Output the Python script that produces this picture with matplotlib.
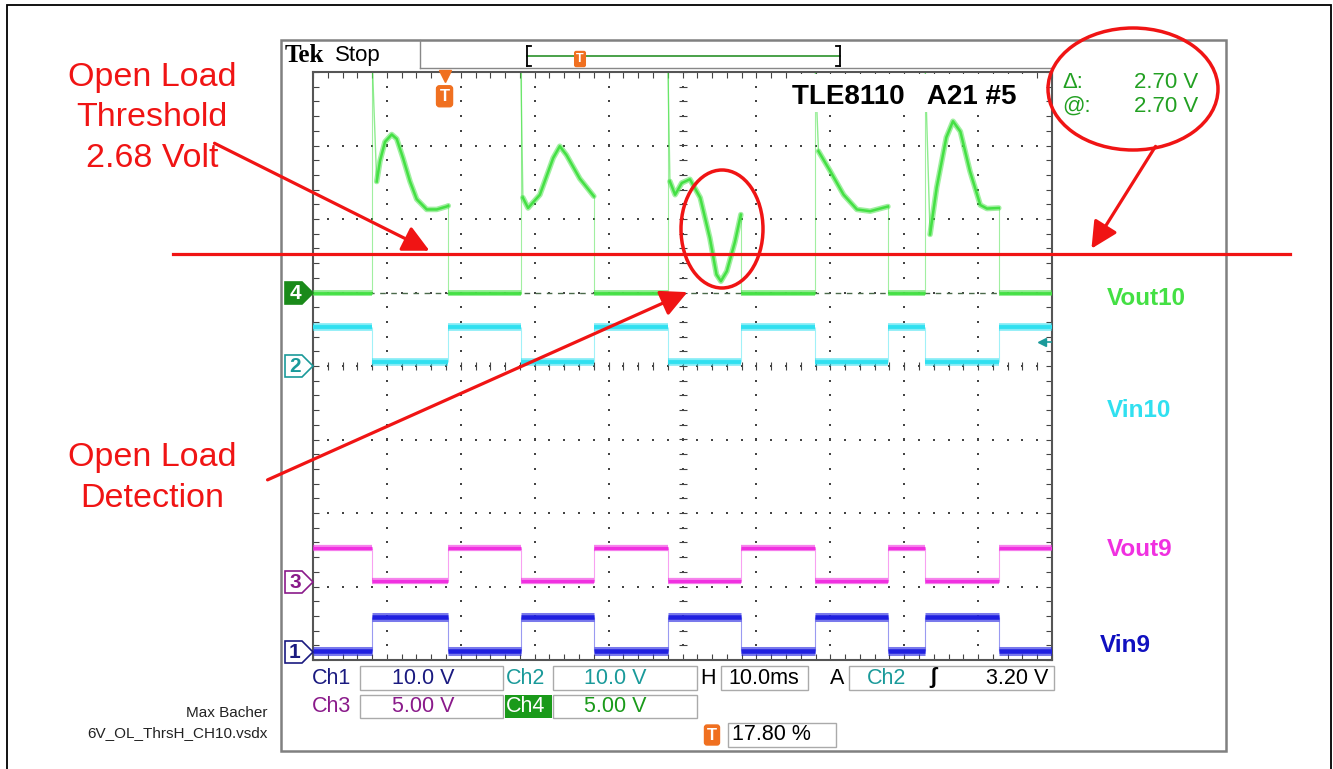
import matplotlib.pyplot as plt
import numpy as np
from matplotlib import transforms
from matplotlib.patches import Rectangle, Ellipse, Polygon, FancyArrowPatch
from matplotlib.lines import Line2D

plt.rcParams['font.family'] = ['Liberation Sans', 'DejaVu Sans']

# time base: 10 ms/div, 10 divisions
t_range = [0.0, 100.0]
# switching edges of the input signals (ms)
edges = [8.0, 18.3, 28.1, 38.0, 48.0, 57.9, 67.9, 77.8, 82.8, 92.8]

# volts per division and ground marker position (div) of each channel
volt_div = {'Vin9': 10.0, 'Vin10': 10.0, 'Vout9': 5.0, 'Vout10': 5.0}
ground_div = {'Vin9': -3.89, 'Vin10': 0.0, 'Vout9': -2.94, 'Vout10': 0.99}

# level before the first edge, then alternating (V)
vin10_levels = [5.3, 0.5]
vout9_levels = [2.3, 0.05]
vin9_levels = [0.1, 4.8]
vout10_low = 0.05

# Vout10 while channel 10 is off (V), first point = top of the switching spike
p1_t = [8.0, 8.62, 9.07, 9.74, 10.65, 11.33, 12.18, 13.13, 14.03, 15.39, 16.74, 18.09, 18.3]
p1_v = [16.0, 7.6, 9.0, 10.3, 10.8, 10.5, 9.2, 7.6, 6.4, 5.7, 5.7, 5.9, 5.95]
p2_t = [28.1, 28.4, 29.1, 30.7, 32.5, 33.4, 34.3, 36.1, 38.0]
p2_v = [16.0, 6.5, 5.8, 6.7, 9.2, 10.0, 9.4, 7.8, 6.6]
p3_t = [48.0, 48.3, 49.0, 49.9, 51.0, 52.4, 53.7, 54.6, 55.2, 56.0, 57.1, 57.9]
p3_v = [16.0, 7.6, 6.7, 7.5, 7.75, 6.5, 3.76, 1.27, 0.82, 1.5, 3.5, 5.35]
p4_t = [67.9, 68.4, 70.0, 71.8, 73.6, 75.4, 77.8]
p4_v = [16.0, 9.66, 8.3, 6.7, 5.7, 5.58, 5.9]
p5_t = [82.8, 83.5, 84.4, 85.7, 86.6, 87.6, 88.9, 90.3, 91.2, 92.8]
p5_v = [16.0, 4.0, 7.2, 10.6, 11.7, 11.0, 8.3, 6.0, 5.76, 5.8]

threshold_v = 2.68
trigger_pos = 17.8   # % of record
trigger_level = 3.20  # V on Ch2

W, H = 1333, 769
red = '#f01414'
green = '#44e044'
cyan = '#30e0f0'
magenta = '#f030e0'
blue = '#2020e0'
orange = '#f07020'


def P(x, y):
    # pixel position -> figure fraction
    return (x / W, 1 - y / H)


def box(x0, y0, x1, y1, ec='#aaaaaa', fc='none', lw=1.0, z=1):
    r = Rectangle(P(x0, y1), (x1 - x0) / W, (y1 - y0) / H, transform=fig.transFigure,
                  fc=fc, ec=ec, lw=lw, zorder=z)
    fig.add_artist(r)


def hline(x0, x1, y, color='#888888', lw=1.0):
    fig.add_artist(Line2D([x0 / W, x1 / W], [1 - y / H, 1 - y / H], color=color, lw=lw))


def vline(x, y0, y1, color='#888888', lw=1.0):
    fig.add_artist(Line2D([x / W, x / W], [1 - y0 / H, 1 - y1 / H], color=color, lw=lw))


fig = plt.figure(figsize=(W / 100, H / 100), dpi=100)

# outer page border and scope frame
box(7, 5, 1331, 775, ec='black', lw=1.3)
box(281, 40, 1226, 751, ec='#808080', lw=1.8)
vline(420, 40, 68)
hline(420, 1052, 68)

ax = fig.add_axes([313 / W, 1 - 660 / H, (1052 - 313) / W, (660 - 72) / H])

# graticule
dot_y = np.arange(-4, 4.01, 0.2)
dot_x = np.arange(0, 100.1, 2)
for gx in np.arange(10, 100, 10):
    ax.scatter(np.full_like(dot_y, gx), dot_y, s=2.5, marker='s', c='#444444', lw=0, zorder=1)
for gy in np.arange(-3, 4, 1):
    ax.scatter(dot_x, np.full_like(dot_x, gy), s=2.5, marker='s', c='#444444', lw=0, zorder=1)
ax.plot(np.full_like(dot_y, 50), dot_y, ls='none', marker='_', ms=6, mew=0.8, color='#444444', zorder=1)
ax.plot(dot_x, np.zeros_like(dot_x), ls='none', marker='|', ms=6, mew=0.8, color='#444444', zorder=1)

# Ch4 ground reference
g4, s4 = ground_div['Vout10'], volt_div['Vout10']
ax.plot(t_range, [g4, g4], color='#4a6a4a', lw=1.0, ls=(0, (4, 4)), zorder=2)


def draw_levels(name, levels, color, width):
    g, s = ground_div[name], volt_div[name]
    bounds = t_range[:1] + edges + t_range[1:]
    for i in range(len(bounds) - 1):
        y = g + levels[i % 2] / s
        ax.plot(bounds[i:i + 2], [y, y], color=color, lw=width, alpha=0.6, solid_capstyle='butt', zorder=3)
        ax.plot(bounds[i:i + 2], [y, y], color=color, lw=width * 0.5, solid_capstyle='butt', zorder=3)
    ax.vlines(edges, g + min(levels) / s, g + max(levels) / s, color=color, lw=0.8, alpha=0.45, zorder=2)


draw_levels('Vin10', vin10_levels, cyan, 5.5)
draw_levels('Vout9', vout9_levels, magenta, 4.5)
draw_levels('Vin9', vin9_levels, blue, 6.5)

# Vout10
pulses = [(p1_t, p1_v), (p2_t, p2_v), (p3_t, p3_v), (p4_t, p4_v), (p5_t, p5_v)]
low_y = g4 + vout10_low / s4
starts = [t_range[0]] + [p[0][-1] for p in pulses]
ends = [p[0][0] for p in pulses] + [t_range[1]]
for a, b in zip(starts, ends):
    ax.plot([a, b], [low_y, low_y], color=green, lw=4.2, alpha=0.6, solid_capstyle='butt', zorder=3)
    ax.plot([a, b], [low_y, low_y], color=green, lw=2.0, solid_capstyle='butt', zorder=3)
for pt, pv in pulses:
    y = g4 + np.array(pv) / s4
    ax.plot([pt[0], pt[0]], [low_y, y[0]], color=green, lw=0.8, alpha=0.5, zorder=2)
    ax.plot(pt[:2], y[:2], color=green, lw=1.0, alpha=0.6, zorder=2)
    ax.plot(pt[1:], y[1:], color=green, lw=4.0, alpha=0.5, solid_joinstyle='round',
            solid_capstyle='round', zorder=3)
    ax.plot(pt[1:], y[1:], color=green, lw=1.8, solid_joinstyle='round', zorder=3)
    ax.plot([pt[-1], pt[-1]], [y[-1], low_y], color=green, lw=0.8, alpha=0.5, zorder=2)

ax.set_xlim(t_range)
ax.set_ylim(-4, 4)
ax.set_xticks(np.arange(0, 101, 10))
ax.set_xticks(dot_x, minor=True)
ax.set_yticks(np.arange(-4, 5, 1))
ax.set_yticks(dot_y, minor=True)
ax.tick_params(which='both', direction='in', length=4, width=0.8, color='#444444',
               top=True, right=True, labelbottom=False, labelleft=False)
for sp in ax.spines.values():
    sp.set_color('#555555')
    sp.set_linewidth(1.5)

# trigger markers
trig_t = t_range[0] + trigger_pos / 100 * (t_range[1] - t_range[0])
ax.plot([trig_t], [3.95], marker='v', ms=8, color=orange, clip_on=False, zorder=6)
ax.text(trig_t, 3.67, 'T', ha='center', va='center', color='white', fontsize=12, fontweight='bold',
        bbox=dict(boxstyle='round,pad=0.18', fc=orange, ec=orange), zorder=6)
ax.plot([98.6], [trigger_level / volt_div['Vin10']], marker='<', ms=6, color='#1a9a9a', zorder=6)
ax.plot([98.6, 99.8], [trigger_level / volt_div['Vin10']] * 2, color='#1a9a9a', lw=1.2, zorder=6)

# title label with white patch behind it
ax.add_patch(Rectangle((0.643, 0.932), 0.334, 0.064, transform=ax.transAxes,
                       fc='white', ec='none', zorder=6))
ax.text(0.648, 0.9575, 'TLE8110   A21 #5', transform=ax.transAxes, fontsize=20, fontweight='bold',
        va='center', ha='left', zorder=7)

# header
fig.text(*P(285, 56), 'Tek', family='Liberation Serif', fontweight='bold', fontsize=18, va='center')
fig.text(*P(335, 55), 'Stop', fontsize=16, va='center')
hline(527, 840, 56, color='#3a9a3a', lw=1.3)
for bx, d in [(527, 4), (840, -4)]:
    vline(bx, 46, 66, color='black', lw=1.3)
    hline(bx, bx + d, 46, color='black', lw=1.3)
    hline(bx, bx + d, 66, color='black', lw=1.3)
fig.text(*P(580, 59), 'T', ha='center', va='center', color='white', fontsize=9, fontweight='bold',
         bbox=dict(boxstyle='round,pad=0.12', fc=orange, ec=orange))

# cursor readout
fig.text(*P(1062, 83), 'Δ:', color='#22a022', fontsize=16, va='center')
fig.text(*P(1062, 106), '@:', color='#22a022', fontsize=16, va='center')
fig.text(*P(1198, 83), '2.70 V', color='#22a022', fontsize=16, va='center', ha='right')
fig.text(*P(1198, 106), '2.70 V', color='#22a022', fontsize=16, va='center', ha='right')

# channel ground markers
for yc, label, ec, fc, tc in [(293, '4', '#1a8a1a', '#1a8a1a', 'white'),
                              (366, '2', '#1a9a9a', 'white', '#1a9a9a'),
                              (582, '3', '#8a1a8a', 'white', '#8a1a8a'),
                              (652, '1', '#1a1a80', 'white', '#1a1a80')]:
    pts = [P(285, yc - 11), P(302, yc - 11), P(313, yc), P(302, yc + 11), P(285, yc + 11)]
    fig.add_artist(Polygon(pts, closed=True, transform=fig.transFigure, fc=fc, ec=ec, lw=1.2))
    fig.text(*P(295, yc + 1), label, color=tc, fontsize=15, fontweight='bold', ha='center', va='center')

# channel names on the right
for yc, label, c in [(299, 'Vout10', green), (410, 'Vin10', cyan),
                     (550, 'Vout9', magenta), (645, 'Vin9', '#1010c0')]:
    fig.text(*P(1107 if label != 'Vin9' else 1100, yc), label, color=c, fontsize=17.5,
             fontweight='bold', va='center', ha='left')

# status bar
st = dict(fontsize=15.5, va='center')
box(360, 666, 503, 690)
box(553, 666, 697, 690)
box(721, 666, 808, 690)
box(849, 666, 1054, 690)
box(360, 695, 503, 718)
box(553, 695, 697, 718)
box(728, 723, 836, 747)
fig.text(*P(312, 678), 'Ch1', color='#1a1a80', **st)
fig.text(*P(423, 678), '10.0 V', color='#1a1a80', ha='center', **st)
fig.text(*P(506, 678), 'Ch2', color='#1a9a9a', **st)
fig.text(*P(615, 678), '10.0 V', color='#1a9a9a', ha='center', **st)
fig.text(*P(700, 678), 'H', color='black', **st)
fig.text(*P(764, 678), '10.0ms', color='black', ha='center', **st)
fig.text(*P(830, 678), 'A', color='black', **st)
fig.text(*P(867, 678), 'Ch2', color='#1a9a9a', **st)
fig.text(*P(933, 678), 'ʃ', color='black', ha='center', fontsize=16, fontweight='bold', va='center')
fig.text(*P(1048, 678), '3.20 V', color='black', ha='right', **st)
fig.text(*P(312, 706), 'Ch3', color='#8a1a8a', **st)
fig.text(*P(423, 706), '5.00 V', color='#8a1a8a', ha='center', **st)
fig.add_artist(Rectangle(P(505, 718), 47 / W, 23 / H, transform=fig.transFigure, fc='#1a9a1a', ec='none'))
fig.text(*P(506, 706), 'Ch4', color='white', **st)
fig.text(*P(615, 706), '5.00 V', color='#1a9a1a', ha='center', **st)
fig.text(*P(712, 735), 'T', ha='center', va='center', color='white', fontsize=12, fontweight='bold',
         bbox=dict(boxstyle='round,pad=0.15', fc=orange, ec=orange))
fig.text(*P(732, 735), '17.80 %', color='black', **st)

# annotations
fig.text(*P(152, 118), 'Open Load\nThreshold\n2.68 Volt', color=red, fontsize=24.5,
         ha='center', va='center', linespacing=1.4)
fig.text(*P(152, 478), 'Open Load\nDetection', color=red, fontsize=24.5,
         ha='center', va='center', linespacing=1.4)
blend = transforms.blended_transform_factory(fig.transFigure, ax.transData)
thr_y = g4 + threshold_v / s4
fig.add_artist(Line2D([173 / W, 1290 / W], [thr_y, thr_y], transform=blend, color=red, lw=2.3, zorder=8))
for a, b in [((212, 142), (432, 252)), ((1157, 144), (1090, 251)), ((265, 481), (690, 291))]:
    fig.add_artist(FancyArrowPatch(P(*a), P(*b), transform=fig.transFigure,
                                   arrowstyle='-|>,head_length=0.9,head_width=0.45',
                                   mutation_scale=18, lw=2.3, color=red, zorder=8))
fig.add_artist(Ellipse(P(722, 229), 82 / W, 118 / H, transform=fig.transFigure,
                       fill=False, ec=red, lw=2.5, zorder=8))
fig.add_artist(Ellipse(P(1133, 89), 170 / W, 122 / H, transform=fig.transFigure,
                       fill=False, ec=red, lw=2.5, zorder=8))

fig.text(*P(268, 713), 'Max Bacher', fontsize=11, color='#222222', ha='right', va='center')
fig.text(*P(268, 733), '6V_OL_ThrsH_CH10.vsdx', fontsize=11, color='#222222', ha='right', va='center')

fig.savefig('out.png', dpi=100)
